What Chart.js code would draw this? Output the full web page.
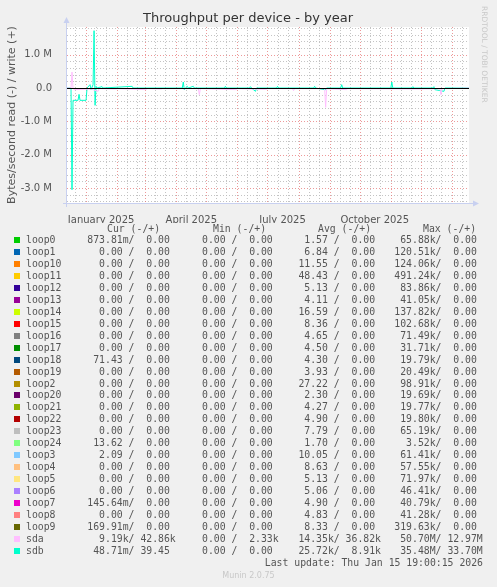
<!DOCTYPE html>
<html><head><meta charset="utf-8">
<script src="https://cdn.jsdelivr.net/npm/chart.js@4"></script>
<style>
body{margin:0;background:#f0f0f0;width:497px;height:587px;overflow:hidden;position:relative;font-family:"DejaVu Sans",sans-serif;}
#c{position:absolute;left:0;top:0;}
.t{position:absolute;white-space:pre;color:#555;font-family:"DejaVu Sans Mono",monospace;font-size:9.8px;line-height:12px;}
.sq{position:absolute;width:6px;height:6px;}
</style></head><body>
<canvas id="c" width="497" height="587"></canvas>
<div id="legend"></div>
<script>
// ---- data ----
const monthStarts = [0,31,59,90,120,151,181,212,243,273,304,334,365]; // days from 2025-01-01
const xTickDays = [15,105,196,288];
const xTickLabels = ["January 2025","April 2025","July 2025","October 2025"];
const yTickValues = [-3e6,-2e6,-1e6,0,1e6];
const yTickLabels = ["-3.0 M","-2.0 M","-1.0 M","0.0","1.0 M"];

const sdbDays = [-19,-15,-14,-13,-8,-7,-6,0,1,4,5,7,8,9,10,11,16,17,46,47,96,97,98,99,101,102,107,108,138,139,140,163,164,165,169,170,190,191,192,227,228,229,238,239,240,254,255,256,304,305,306,325,326,327,346,347,348,357,358,382];
const sdbValues = [0,0,-3.05e6,-0.37e6,-0.37e6,-0.19e6,-0.37e6,-0.37e6,0,0.1e6,-0.05e6,0.1e6,1.72e6,-0.52e6,0.05e6,0,0.04e6,0,0.05e6,0,0,0.18e6,-0.05e6,0,0.05e6,0,0.05e6,0,0,0.05e6,0,0,0.04e6,0,-0.1e6,0,0,0.05e6,0,0,0.05e6,0,-0.05e6,-0.05e6,0,0,0.1e6,0,0,0.18e6,0,0,0.04e6,0,0,0.04e6,-0.05e6,-0.1e6,0,0];
const sdaDays = [-19,-15,-14,-13,-12,5,12,13,30,31,60,61,75,76,112,113,114,150,151,180,181,206,207,208,238,239,240,260,261,330,353,354,355,382];
const sdaValues = [0,0,0.48e6,0,-0.05e6,-0.03e6,-0.1e6,-0.02e6,-0.03e6,-0.02e6,-0.05e6,-0.02e6,-0.03e6,-0.02e6,-0.02e6,-0.2e6,-0.02e6,-0.05e6,-0.02e6,-0.04e6,-0.02e6,-0.02e6,-0.08e6,-0.02e6,-0.02e6,-0.58e6,-0.02e6,-0.05e6,-0.02e6,-0.03e6,-0.02e6,-0.2e6,-0.02e6,0];

const names = ["loop0","loop1","loop10","loop11","loop12","loop13","loop14","loop15","loop16","loop17","loop18","loop19","loop2","loop20","loop21","loop22","loop23","loop24","loop3","loop4","loop5","loop6","loop7","loop8","loop9","sda","sdb"];
const colors = ["#00CC00","#0066B3","#FF8000","#FFCC00","#330099","#990099","#CCFF00","#FF0000","#808080","#008F00","#00487D","#B35A00","#B38F00","#6B006B","#8FB300","#B30000","#BEBEBE","#80FF80","#80C9FF","#FFC080","#FFE680","#AA80FF","#EE00CC","#FF8080","#666600","#FFBFFF","#00FFCC"];
const curR = ["873.81m","0.00","0.00","0.00","0.00","0.00","0.00","0.00","0.00","0.00","71.43","0.00","0.00","0.00","0.00","0.00","0.00","13.62","2.09","0.00","0.00","0.00","145.64m","0.00","169.91m","9.19k","48.71m"];
const curW = ["0.00","0.00","0.00","0.00","0.00","0.00","0.00","0.00","0.00","0.00","0.00","0.00","0.00","0.00","0.00","0.00","0.00","0.00","0.00","0.00","0.00","0.00","0.00","0.00","0.00","42.86k","39.45"];
const minR = Array(27).fill("0.00");
const minW = ["0.00","0.00","0.00","0.00","0.00","0.00","0.00","0.00","0.00","0.00","0.00","0.00","0.00","0.00","0.00","0.00","0.00","0.00","0.00","0.00","0.00","0.00","0.00","0.00","0.00","2.33k","0.00"];
const avgR = ["1.57","6.84","11.55","48.43","5.13","4.11","16.59","8.36","4.65","4.50","4.30","3.93","27.22","2.30","4.27","4.90","7.79","1.70","10.05","8.63","5.13","5.06","4.90","4.83","8.33","14.35k","25.72k"];
const avgW = ["0.00","0.00","0.00","0.00","0.00","0.00","0.00","0.00","0.00","0.00","0.00","0.00","0.00","0.00","0.00","0.00","0.00","0.00","0.00","0.00","0.00","0.00","0.00","0.00","0.00","36.82k","8.91k"];
const maxR = ["65.88k","120.51k","124.06k","491.24k","83.86k","41.05k","137.82k","102.68k","71.49k","31.71k","19.79k","20.49k","98.91k","19.69k","19.77k","19.80k","65.19k","3.52k","61.41k","57.55k","71.97k","46.41k","40.79k","41.28k","319.63k","50.70M","35.48M"];
const maxW = ["0.00","0.00","0.00","0.00","0.00","0.00","0.00","0.00","0.00","0.00","0.00","0.00","0.00","0.00","0.00","0.00","0.00","0.00","0.00","0.00","0.00","0.00","0.00","0.00","0.00","12.97M","33.70M"];

// ---- legend ----
function fmt(s){const u=/[a-zA-Z]$/.test(s)?s.slice(-1):" ";const n=u===" "?s:s.slice(0,-1);return n.padStart(6)+u;}
const L=document.getElementById('legend');
function txt(x,y,s,extra){const d=document.createElement('div');d.className='t';d.style.left=x+'px';d.style.top=(y-6)+'px';d.textContent=s;if(extra)Object.assign(d.style,extra);L.appendChild(d);return d;}
txt(107,229,"Cur (-/+)");txt(213,229,"Min (-/+)");txt(318,229,"Avg (-/+)");txt(423,229,"Max (-/+)");
names.forEach((n,i)=>{const y=240+11.96*i;
 const sq=document.createElement('div');sq.className='sq';sq.style.left='14px';sq.style.top=(y-3)+'px';sq.style.background=colors[i];L.appendChild(sq);
 txt(26,y,n);
 txt(87.3,y,fmt(curR[i])+"/"+fmt(curW[i]));
 txt(190.2,y,fmt(minR[i])+"/"+fmt(minW[i]));
 txt(292.5,y,fmt(avgR[i])+"/"+fmt(avgW[i]));
 txt(394.3,y,fmt(maxR[i])+"/"+fmt(maxW[i]));
});
txt(0,563,"Last update: Thu Jan 15 19:00:15 2026",{width:'483px',textAlign:'right'});
txt(0,576,"Munin 2.0.75",{width:'497px',textAlign:'center',fontFamily:'"DejaVu Sans",sans-serif',fontSize:'8px',color:'#c8c8c8'});

// ---- chart ----
const bgGrid={id:'bgGrid',
 beforeDatasetsDraw(ch){const {ctx,chartArea:a,scales:{x,y}}=ch;ctx.save();
  ctx.fillStyle='#ffffff';ctx.fillRect(a.left,a.top,a.right-a.left,a.bottom-a.top);
  ctx.lineWidth=1;ctx.setLineDash([1,2]);
  ctx.strokeStyle='rgba(190,190,190,0.9)';
  for(let m=-1;m<monthStarts.length;m++){const b=m<0?-31:monthStarts[m];[10,20].forEach(o=>{const d=b+o;if(d>x.min&&d<x.max){const px=Math.round(x.getPixelForValue(d))+0.5;ctx.beginPath();ctx.moveTo(px,a.top);ctx.lineTo(px,a.bottom);ctx.stroke();}});}
  for(let v=-3.4e6;v<=1.8e6;v+=2e5){if(Math.abs(v/1e6-Math.round(v/1e6))<1e-6)continue;const py=Math.round(y.getPixelForValue(v))+0.5;ctx.beginPath();ctx.moveTo(a.left,py);ctx.lineTo(a.right,py);ctx.stroke();}
  ctx.strokeStyle='rgba(230,110,110,0.7)';
  monthStarts.forEach(d=>{const px=Math.round(x.getPixelForValue(d))+0.5;ctx.beginPath();ctx.moveTo(px,a.top);ctx.lineTo(px,a.bottom);ctx.stroke();});
  yTickValues.forEach(v=>{const py=Math.round(y.getPixelForValue(v))+0.5;ctx.beginPath();ctx.moveTo(a.left,py);ctx.lineTo(a.right,py);ctx.stroke();});
  ctx.restore();},
 afterDatasetsDraw(ch){const {ctx,chartArea:a,scales:{y}}=ch;ctx.save();
  const py=Math.round(y.getPixelForValue(0))+0.5;ctx.strokeStyle='#000';ctx.lineWidth=1;ctx.beginPath();ctx.moveTo(a.left,py);ctx.lineTo(a.right,py);ctx.stroke();
  ctx.strokeStyle='#c8d0f0';ctx.fillStyle='#c8d0f0';
  ctx.beginPath();ctx.moveTo(a.left-0.5,a.bottom+4);ctx.lineTo(a.left-0.5,a.top-6);ctx.stroke();
  ctx.beginPath();ctx.moveTo(a.left-3.5,a.top-4);ctx.lineTo(a.left-0.5,a.top-10);ctx.lineTo(a.left+2.5,a.top-4);ctx.fill();
  ctx.beginPath();ctx.moveTo(a.left-4,a.bottom+0.5);ctx.lineTo(a.right+6,a.bottom+0.5);ctx.stroke();
  ctx.beginPath();ctx.moveTo(a.right+4,a.bottom-2.5);ctx.lineTo(a.right+10,a.bottom+0.5);ctx.lineTo(a.right+4,a.bottom+3.5);ctx.fill();
  // texts
  ctx.fillStyle='#333';ctx.font='13px "DejaVu Sans"';ctx.textAlign='center';ctx.textBaseline='middle';
  ctx.fillText('Throughput per device - by year',248,19);
  ctx.fillStyle='#555';ctx.font='11px "DejaVu Sans"';
  ctx.save();ctx.translate(12,115);ctx.rotate(-Math.PI/2);ctx.fillText('Bytes/second read (-) / write (+)',0,0);ctx.restore();
  ctx.fillStyle='#c8c8c8';ctx.font='7.5px "DejaVu Sans"';ctx.textAlign='left';
  ctx.save();ctx.translate(484,6);ctx.rotate(Math.PI/2);ctx.fillText('RRDTOOL / TOBI OETIKER',0,0);ctx.restore();
  ctx.restore();}
};
new Chart(document.getElementById('c'),{
 type:'line',
 data:{datasets:[
  {label:'sda',data:sdaDays.map((d,i)=>({x:d,y:sdaValues[i]})),borderColor:'#FFBFFF',borderWidth:1,pointRadius:0,tension:0},
  {label:'sdb',data:sdbDays.map((d,i)=>({x:d,y:sdbValues[i]})),borderColor:'#00FFCC',borderWidth:1,pointRadius:0,tension:0}
 ]},
 options:{responsive:false,animation:false,events:[],
  layout:{padding:{left:0,right:28,top:27,bottom:364}},
  plugins:{legend:{display:false},tooltip:{enabled:false}},
  scales:{
   x:{type:'linear',min:-19,max:382,grid:{display:false},border:{display:false},
    afterBuildTicks:s=>{s.ticks=xTickDays.map(v=>({value:v}));},
    afterFit:s=>{s.height=20;},
    ticks:{padding:3,maxRotation:0,autoSkip:false,color:'#555',font:{family:'DejaVu Sans',size:10},callback:(v)=>xTickLabels[xTickDays.indexOf(v)]}},
   y:{min:-3.45e6,max:1.83e6,grid:{display:false},border:{display:false},
    afterBuildTicks:s=>{s.ticks=yTickValues.map(v=>({value:v}));},
    afterFit:s=>{s.width=67;},
    ticks:{padding:7,color:'#555',font:{family:'DejaVu Sans',size:10},callback:(v)=>yTickLabels[yTickValues.indexOf(v)]}}
  }},
 plugins:[bgGrid]
});
</script></body></html>
